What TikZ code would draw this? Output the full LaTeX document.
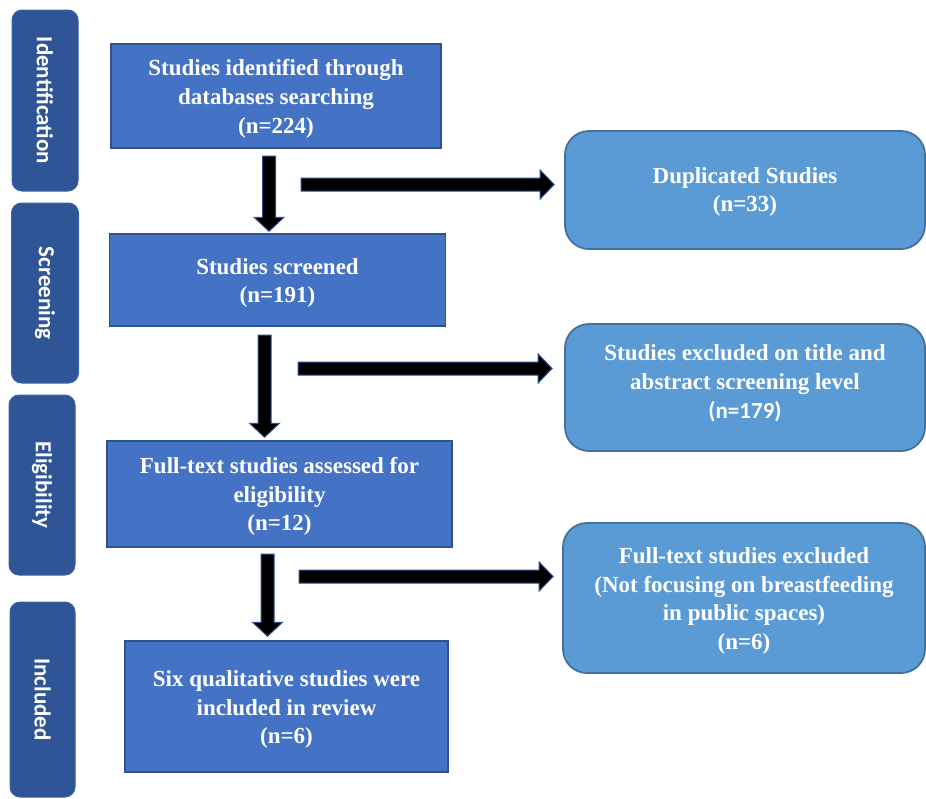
\documentclass[tikz,border=0pt]{standalone}
\usepackage{fontspec}
\setmainfont{Liberation Serif}
\newfontfamily\calfont{Carlito}
\usetikzlibrary{calc}
\definecolor{sidec}{HTML}{2F5597}
\definecolor{sideb}{HTML}{3A64A8}
\definecolor{mainc}{HTML}{4472C4}
\definecolor{mainb}{HTML}{2F528F}
\definecolor{rightc}{HTML}{5B9BD5}
\definecolor{rightb}{HTML}{41719C}
\newcommand\bxfont{\fontsize{23}{28.8}\selectfont\bfseries}
\newcommand\sdfont{\calfont\bfseries\fontsize{23}{27}\selectfont}
\begin{document}
\begin{tikzpicture}[x=1pt,y=-1pt,
  phase/.style={draw=sideb, fill=sidec, line width=1pt, rounded corners=10pt,
    rotate=-90, inner sep=0pt, text=white, font=\sdfont},
  mainbox/.style={draw=mainb, fill=mainc, line width=1.5pt, inner sep=0pt},
  sidebox/.style={draw=rightb, fill=rightc, line width=1.8pt, rounded corners=24pt,
    inner sep=0pt},
  boxtext/.style={inner sep=0pt, text=white, align=center, font=\bxfont},
  blockv/.style={draw=mainb, fill=black, line width=1pt,
    to path={let \p1=(\tikztostart), \p2=(\tikztotarget) in
      (\x1-6.5pt,\y1) -- (\x1+6.5pt,\y1) -- (\x1+6.5pt,\y2+14pt) -- (\x1+15pt,\y2+14pt)
      -- (\x1,\y2) -- (\x1-15pt,\y2+14pt) -- (\x1-6.5pt,\y2+14pt) -- cycle}},
  blockh/.style={draw=mainb, fill=black, line width=1pt,
    to path={let \p1=(\tikztostart), \p2=(\tikztotarget) in
      (\x1,\y1-6.5pt) -- (\x2-14pt,\y1-6.5pt) -- (\x2-14pt,\y1-14.5pt) -- (\x2,\y1)
      -- (\x2-14pt,\y1+14.5pt) -- (\x2-14pt,\y1+6.5pt) -- (\x1,\y1+6.5pt) -- cycle}}
]
\useasboundingbox (0,0) rectangle (926,798);
\fill[white] (0,0) rectangle (926,798);

% phase labels
\node[phase, minimum width=181pt, minimum height=66pt] (p1) at (45,100.5) {Identification};
\node[phase, minimum width=180pt, minimum height=67pt] (p2) at (45,293) {Screening};
\node[phase, minimum width=180pt, minimum height=66pt] (p3) at (42,485) {Eligibility};
\node[phase, minimum width=195pt, minimum height=65pt] (p4) at (42.5,699.5) {Included};

% main boxes
\node[mainbox, minimum width=330pt, minimum height=104pt] (b1) at (276,96) {};
\node[mainbox, minimum width=336pt, minimum height=92pt] (b2) at (277.5,280) {};
\node[mainbox, minimum width=345pt, minimum height=106pt] (b3) at (279.5,494) {};
\node[mainbox, minimum width=323pt, minimum height=131pt] (b4) at (286.5,706.5) {};
\node[boxtext] (t1) at ($(b1)+(0,3)$) {Studies identified through\\databases searching\\(n=224)};
\node[boxtext] (t2) at ($(b2)+(0,3)$) {Studies screened\\(n=191)};
\node[boxtext] (t3) at ($(b3)+(0,2.5)$) {Full-text studies assessed for\\eligibility\\(n=12)};
\node[boxtext] (t4) at ($(b4)+(0,3)$) {Six qualitative studies were\\included in review\\(n=6)};

% exclusion boxes
\node[sidebox, minimum width=360pt, minimum height=118pt] (r1) at (745,190) {};
\node[sidebox, minimum width=360pt, minimum height=127pt] (r2) at (745,387.5) {};
\node[sidebox, minimum width=362pt, minimum height=150pt] (r3) at (744,598) {};
\node[boxtext] (t5) at ($(r1)+(0,2)$) {Duplicated Studies\\(n=33)};
\node[boxtext] (t6) at ($(r2)+(0,-4)$) {Studies excluded on title and\\abstract screening level\\{\calfont(n=179)}};
\node[boxtext] (t7) at ($(r3)+(0,3)$) {Full-text studies excluded\\(Not focusing on breastfeeding\\in public spaces)\\(n=6)};

% down arrows
\coordinate (v1s) at (269,156);
\coordinate (v2s) at (264.5,335);
\coordinate (v3s) at (267.5,554);
\draw[blockv] (v1s) to ($(v1s |- b2.north)+(0,-2)$);
\draw[blockv] (v2s) to ($(v2s |- b3.north)+(0,-3)$);
\draw[blockv] (v3s) to ($(v3s |- b4.north)+(0,-4)$);

% side arrows
\coordinate (h1s) at (301,184.5);
\coordinate (h2s) at (298,368.5);
\coordinate (h3s) at (299,576.5);
\draw[blockh] (h1s) to ($(h1s -| r1.west)+(-10,0)$);
\draw[blockh] (h2s) to ($(h2s -| r2.west)+(-12,0)$);
\draw[blockh] (h3s) to ($(h3s -| r3.west)+(-9,0)$);
\end{tikzpicture}
\end{document}
